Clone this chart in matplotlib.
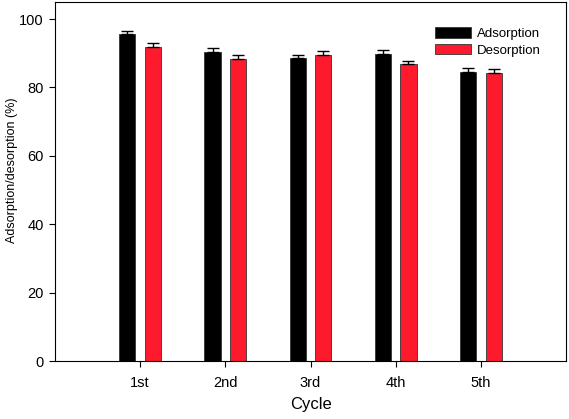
import numpy as np
import matplotlib
matplotlib.use('Agg')
import matplotlib.pyplot as plt

plt.rcParams['font.family'] = ['Liberation Sans', 'DejaVu Sans']

cycles = ['1st', '2nd', '3rd', '4th', '5th']
adsorption = [95.5, 90.3, 88.5, 89.8, 84.5]
adsorption_err = [1.1, 1.1, 1.0, 1.1, 1.2]
desorption = [91.9, 88.2, 89.4, 86.8, 84.3]
desorption_err = [1.0, 1.2, 1.3, 1.0, 1.0]

fig = plt.figure(figsize=(5.69, 4.19), dpi=100)
ax = fig.add_axes([0.0967, 0.1384, 0.898, 0.857])

x = np.arange(1, len(cycles) + 1)
w = 0.19
off = 0.15
err_kw = dict(ecolor='black', elinewidth=1, capsize=4, capthick=1)
ax.bar(x - off, adsorption, w, color='black', edgecolor='#333333', linewidth=0.6,
       yerr=[np.zeros(5), adsorption_err], error_kw=err_kw, label='Adsorption')
ax.bar(x + off, desorption, w, color='#fd1a2c', edgecolor='#333333', linewidth=0.6,
       yerr=[np.zeros(5), desorption_err], error_kw=err_kw, label='Desorption')

ax.set_xlim(0, 6)
ax.set_ylim(0, 105)
ax.set_xticks(x)
ax.set_xticklabels(cycles)
ax.set_yticks(range(0, 101, 20))
ax.tick_params(direction='out', length=4, labelsize=10.5)
ax.tick_params(axis='x', pad=7)
ax.tick_params(axis='y', pad=4)
ax.set_xlabel('Cycle', fontsize=12, va='top')
ax.xaxis.set_label_coords(0.5, -0.1)
ax.set_ylabel('Adsorption/desorption (%)', fontsize=9)
ax.yaxis.set_label_coords(-0.072, 0.53)

ax.legend(loc='upper left', bbox_to_anchor=(0.744, 0.929), frameon=False,
          fontsize=9.5, handlelength=2.7, handleheight=0.8, labelspacing=0.3,
          handletextpad=0.45, borderpad=0, borderaxespad=0)

fig.savefig('out.png', dpi=100)
